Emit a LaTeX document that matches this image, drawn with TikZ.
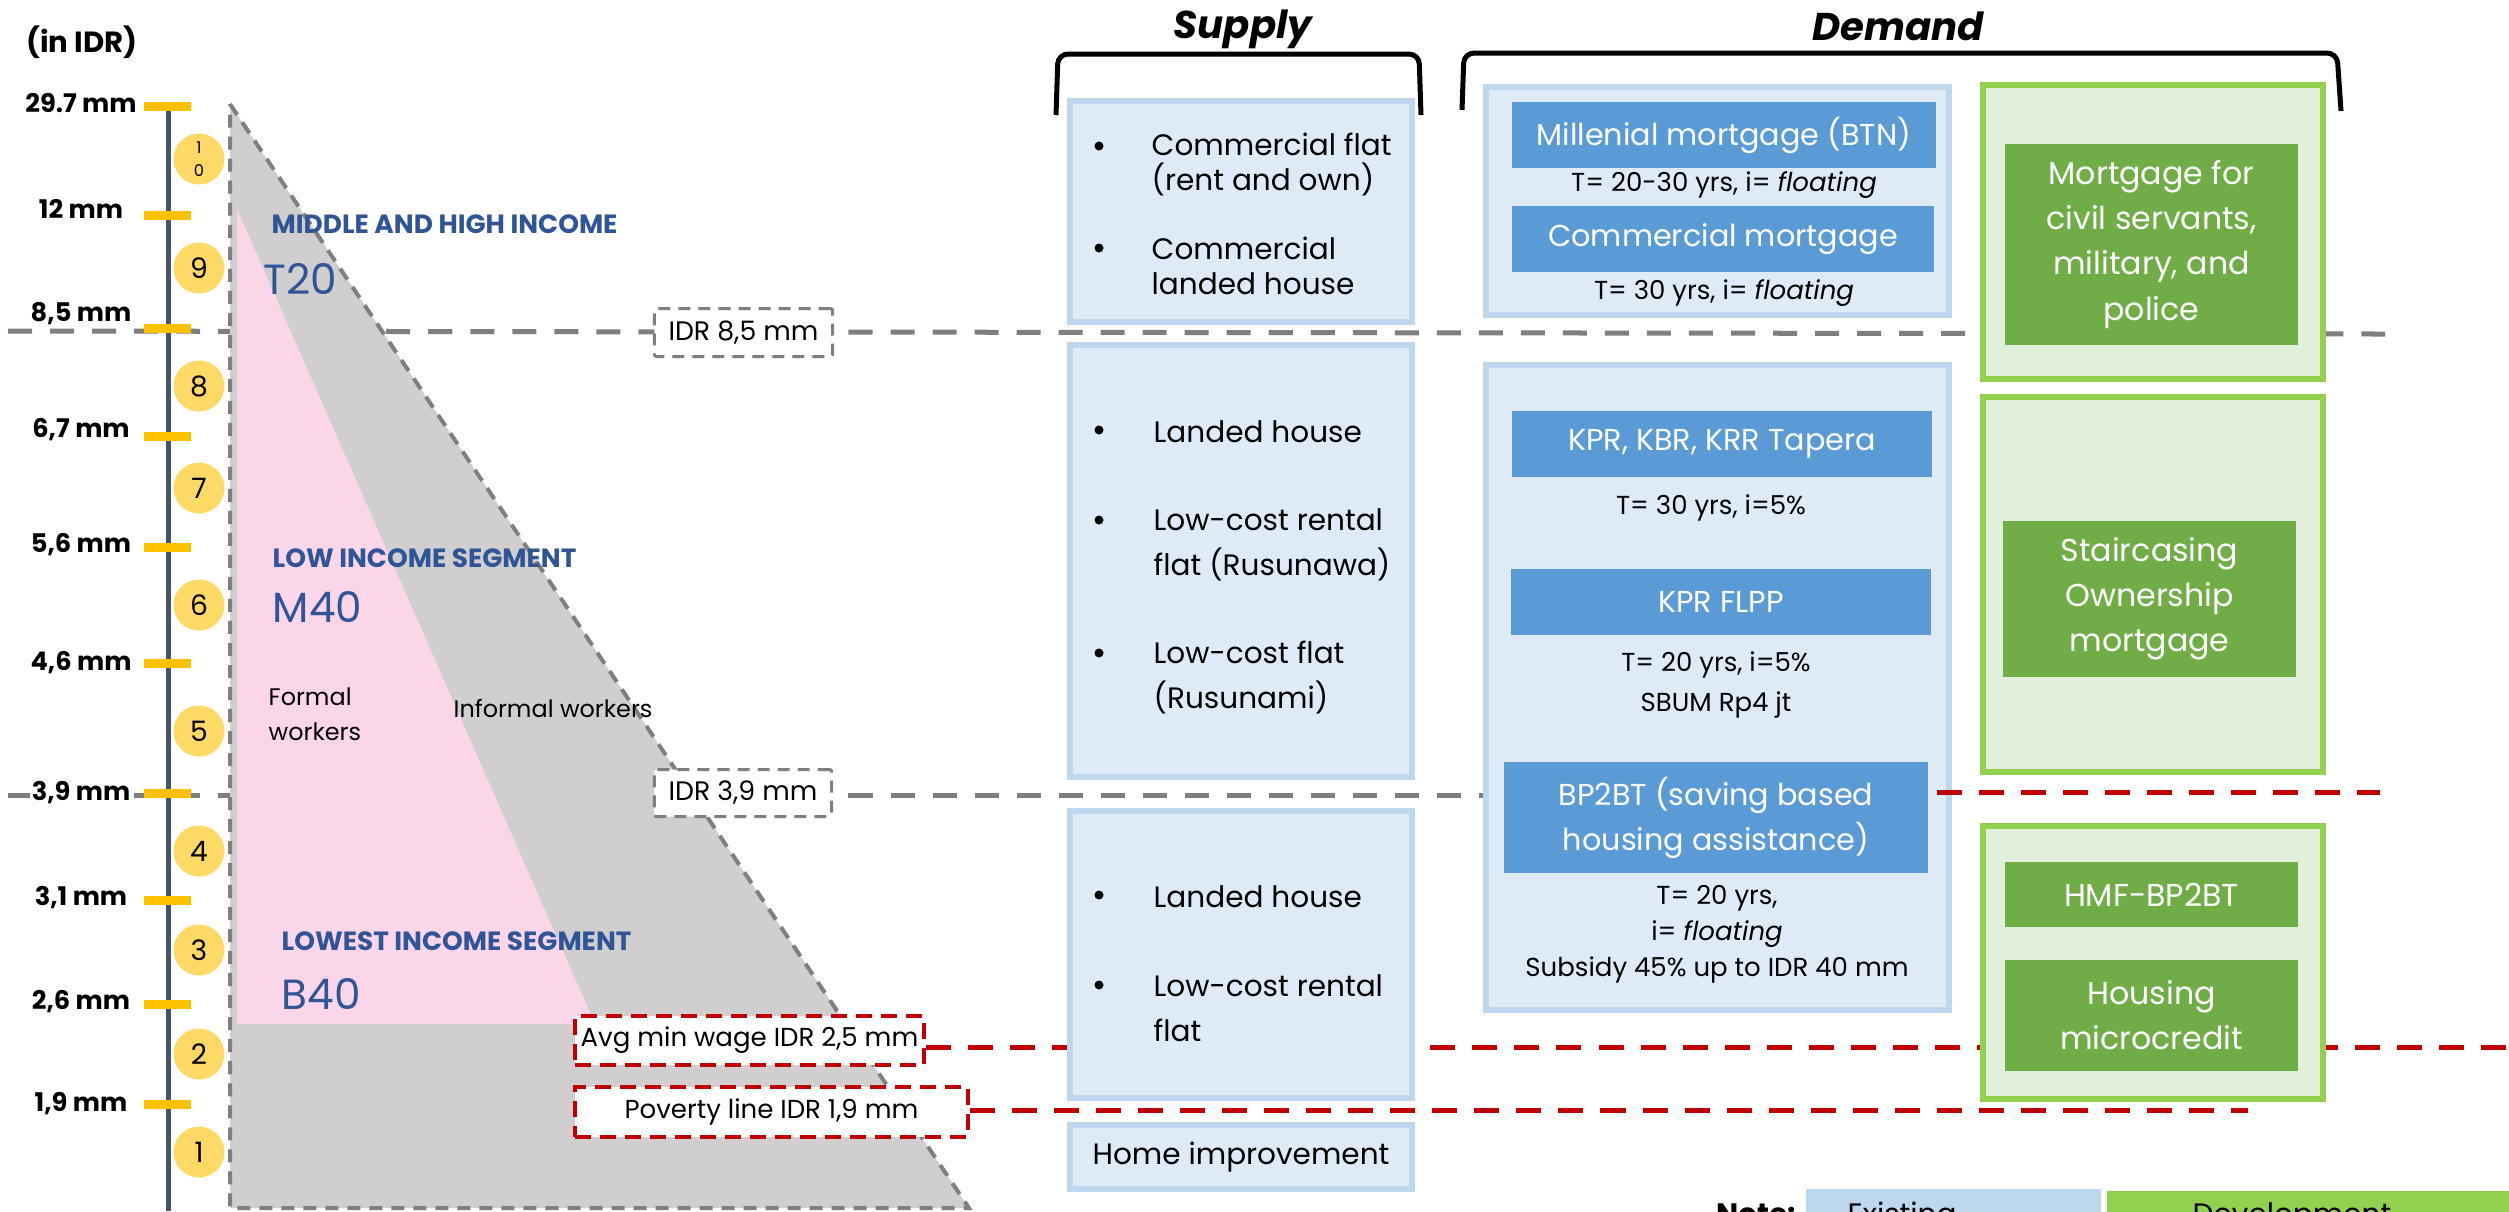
\documentclass[tikz,border=0pt]{standalone}
\usepackage{fontspec}
\setmainfont{Poppins}

\definecolor{axisblue}{HTML}{44546A}
\definecolor{tickyellow}{HTML}{FFC000}
\definecolor{circyellow}{HTML}{FFD966}
\definecolor{pyrgrey}{HTML}{D0CECE}
\definecolor{pinkfill}{RGB}{251,214,232}
\definecolor{dashgrey}{HTML}{7F7F7F}
\definecolor{segblue}{HTML}{2F5597}
\definecolor{boxblue}{HTML}{DEEBF7}
\definecolor{edgeblue}{HTML}{BDD7EE}
\definecolor{barblue}{HTML}{5B9BD5}
\definecolor{boxgreen}{HTML}{E2EFDA}
\definecolor{edgegreen}{HTML}{92D050}
\definecolor{bargreen}{HTML}{70AD47}
\definecolor{linered}{HTML}{C00000}

\newcommand{\fsz}[2]{\fontsize{#1}{#2}\selectfont}

\tikzset{
  greyline/.style={draw=dashgrey, line width=0.05cm, dash pattern=on 0.24cm off 0.18cm},
  redline/.style={draw=linered, line width=0.05cm, dash pattern=on 0.25cm off 0.17cm},
  pyredge/.style={draw=dashgrey, line width=0.04cm, dash pattern=on 0.13cm off 0.09cm},
  tickbar/.style={draw=tickyellow, line width=0.09cm},
  decile/.style={circle, fill=circyellow, minimum size=0.51cm, inner sep=0pt, font=\fsz{8}{9}},
  ticklab/.style={fill=white, inner sep=0.6pt, font=\bfseries\fsz{7.3}{8}},
  seghead/.style={anchor=west, inner sep=0pt, text=segblue, font=\bfseries\fsz{7.5}{9}},
  segname/.style={anchor=west, inner sep=0pt, text=segblue, font=\fsz{12}{13}},
  worker/.style={anchor=west, align=left, inner sep=0pt, font=\fsz{6.8}{9.96}},
  idrbox/.style={draw=dashgrey, fill=white, line width=0.03cm, dash pattern=on 0.12cm off 0.08cm,
    rounded corners=0.02cm, inner sep=0pt, font=\fsz{7.6}{9}},
  redbox/.style={draw=linered, fill=white, line width=0.04cm, dash pattern=on 0.16cm off 0.09cm,
    inner sep=0pt, font=\fsz{7.4}{9}},
  supbox/.style={draw=edgeblue, fill=boxblue, line width=0.06cm, inner sep=0pt},
  grnbox/.style={draw=edgegreen, fill=boxgreen, line width=0.06cm, inner sep=0pt},
  bluebar/.style={fill=barblue, text=white, align=center, inner sep=0pt, font=\fsz{8.6}{12.8}},
  grnbar/.style={fill=bargreen, text=white, align=center, inner sep=0pt, font=\fsz{9}{12.8}},
  item/.style={anchor=west, align=left, inner sep=0pt, font=\fsz{8.4}{12.8}},
  dot/.style={circle, fill=black, inner sep=0pt, minimum size=0.09cm},
  terms/.style={align=center, inner sep=0pt, font=\fsz{7.4}{10.2}},
  bracket/.style={draw=black, line width=0.05cm, rounded corners=0.1cm},
  title/.style={anchor=base, inner sep=0pt, font=\bfseries\itshape\fsz{11}{12}},
  legtext/.style={anchor=base west, inner sep=0pt, font=\fsz{8.4}{10}},
}

\begin{document}
\begin{tikzpicture}[x=0.01cm,y=-0.01cm]
\useasboundingbox (0,0) rectangle (2509,1211);
\clip (0,0) rectangle (2509,1211);

% threshold lines behind everything
\coordinate (g85L) at (8,331);
\coordinate (g85R) at (2385,334);
\coordinate (g39L) at (8,795);
\coordinate (g39R) at (1510,795);
\draw[greyline] (g85L) -- (g85R);
\draw[greyline] (g39L) -- (g39R);

% pyramid
\fill[pyrgrey] (230,104) -- (969,1208) -- (230,1208) -- cycle;
\fill[pinkfill] (237,209) -- (595,1024) -- (237,1024) -- cycle;
\draw[pyredge] (230,104) -- (969,1208) -- (230,1208) -- cycle;

\node[seghead] (hmid) at (271,224) {MIDDLE AND HIGH INCOME};
\node[segname] (t20) at (263,279) {T20};
\node[seghead] (hlow) at (272,558) {LOW INCOME SEGMENT};
\node[segname] (m40) at (272,607) {M40};
\node[worker] (formal) at (268,714) {Formal\\workers};
\node[worker] (informal) at (453,708) {Informal workers};
\node[seghead] (hlowest) at (281,941) {LOWEST INCOME SEGMENT};
\node[segname] (b40) at (281,994) {B40};

% axis
\node[inner sep=0pt, font=\bfseries\fsz{8.3}{9}] (unit) at (82,42) {(in IDR)};
\draw[axisblue, line width=0.05cm] (168,106) -- (168,1211);
\foreach \y in {106,215,328,436,547,663,793,900,1004,1104}
  \draw[tickbar] (144,\y) -- (191,\y);
\foreach \y/\t [count=\i] in {103/{29.7 mm},209/{12 mm},314/{8,5 mm},430/{6,7 mm},545/{5,6 mm},
    663/{4,6 mm},793/{3,9 mm},898/{3,1 mm},1002/{2,6 mm},1104/{1,9 mm}}
  \node[ticklab] (lab\i) at (81,\y) {\t};
\node[decile] (d10) at (199,159) {\fsz{4.6}{6.2}\shortstack{1\\0}};
\foreach \y/\n in {268/9,386/8,488/7,605/6,731/5,851/4,950/3,1054/2,1152/1}
  \node[decile] (d\n) at (199,\y) {\n};

% threshold boxes
\node[idrbox, minimum width=1.78cm, minimum height=0.48cm] (idr85) at (743.5,332.5) {IDR 8,5 mm};
\node[idrbox, minimum width=1.77cm, minimum height=0.47cm] (idr39) at (743,793) {IDR 3,9 mm};
\node[redbox, minimum width=3.49cm, minimum height=0.49cm] (wage) at (749.5,1040.5) {Avg min wage IDR 2,5 mm};
\node[redbox, minimum width=3.93cm, minimum height=0.50cm] (poverty) at (771.5,1112) {Poverty line IDR 1,9 mm};
\coordinate (wageR) at (2509,1047);
\coordinate (povR) at (2248,1110);
\draw[redline] (wage.east |- wageR) -- (wageR);
\draw[redline] (poverty.east |- povR) -- (povR);

% supply
\node[title] (supply) at (1243,38) {Supply};
\draw[bracket] (1056,115) -- (1058,54) -- (1419,54) -- (1421,115);
\node[supbox, minimum width=3.42cm, minimum height=2.21cm] (s1) at (1241,211.5) {};
\node[supbox, minimum width=3.42cm, minimum height=4.32cm] (s2) at (1241,561) {};
\node[supbox, minimum width=3.42cm, minimum height=2.87cm] (s3) at (1241,954.5) {};
\node[supbox, minimum width=3.42cm, minimum height=0.64cm, font=\fsz{8.4}{10}] (s4) at (1241,1157) {Home improvement};
\node[dot] (b11) at (1099,146) {};
\node[item, font=\fsz{8.4}{9.96}] (i11) at (1151,164.5) {Commercial flat\\(rent and own)};
\node[dot] (b12) at (1099,248) {};
\node[item, font=\fsz{8.4}{9.96}] (i12) at (1151,266) {Commercial\\landed house};
\node[dot] (b21) at (1099,430) {};
\node[item] (i21) at (1153,432) {Landed house};
\node[dot] (b22) at (1099,520) {};
\node[item] (i22) at (1153,544.5) {Low-cost rental\\flat (Rusunawa)};
\node[dot] (b23) at (1099,653) {};
\node[item] (i23) at (1153,677.5) {Low-cost flat\\(Rusunami)};
\node[dot] (b31) at (1099,895) {};
\node[item] (i31) at (1153,897) {Landed house};
\node[dot] (b32) at (1099,985) {};
\node[item] (i32) at (1153,1008.5) {Low-cost rental\\flat};

% demand
\node[title] (demand) at (1898,40) {Demand};
\draw[bracket] (1462,110) -- (1464,53) -- (2337,53) -- (2341,111);
\node[supbox, minimum width=4.63cm, minimum height=2.28cm] (dem1) at (1717.5,201) {};
\node[supbox, minimum width=4.63cm, minimum height=6.45cm] (dem2) at (1717.5,687.5) {};
\node[bluebar, minimum width=4.24cm, minimum height=0.66cm] (btn) at (1724,135) {Millenial mortgage (BTN)};
\node[terms] (tbtn) at (1724,185) {T= 20-30 yrs, i= \textit{floating}};
\node[bluebar, minimum width=4.22cm, minimum height=0.66cm] (comm) at (1723,239) {Commercial mortgage};
\node[terms] (tcomm) at (1724,293) {T= 30 yrs, i= \textit{floating}};
\node[bluebar, minimum width=4.20cm, minimum height=0.66cm] (tapera) at (1722,444) {KPR, KBR, KRR Tapera};
\node[terms] (ttapera) at (1711,508) {T= 30 yrs, i=5\%};
\node[bluebar, minimum width=4.20cm, minimum height=0.66cm] (flpp) at (1721,602) {KPR FLPP};
\node[terms, font=\fsz{7.4}{11.4}] (tflpp) at (1716,685) {T= 20 yrs, i=5\%\\SBUM Rp4 jt};
\node[bluebar, minimum width=4.24cm, minimum height=1.11cm] (bp2bt) at (1716,817.5) {BP2BT (saving based\\housing assistance)};
\node[terms] (tbp2bt) at (1717,934) {T= 20 yrs,\\i= \textit{floating}\\Subsidy 45\% up to IDR 40 mm};

\node[grnbox, minimum width=3.40cm, minimum height=2.94cm] (g1) at (2153,232) {};
\node[grnbox, minimum width=3.40cm, minimum height=3.75cm] (g2) at (2153,584.5) {};
\node[grnbox, minimum width=3.40cm, minimum height=2.73cm] (g3) at (2153,962.5) {};
\node[grnbar, minimum width=2.93cm, minimum height=2.01cm] (civil) at (2151.5,244.5) {Mortgage for\\civil servants,\\military, and\\police};
\node[grnbar, minimum width=2.93cm, minimum height=1.56cm] (stair) at (2149.5,599) {Staircasing\\Ownership\\mortgage};
\node[grnbar, minimum width=2.93cm, minimum height=0.65cm] (hmf) at (2151.5,894.5) {HMF-BP2BT};
\node[grnbar, minimum width=2.93cm, minimum height=1.11cm] (micro) at (2151.5,1015.5) {Housing\\microcredit};

\coordinate (bpR) at (2380,792);
\draw[redline] (bp2bt.east |- bpR) ++(8,0) -- (bpR);

% legend, cut by the page edge
\node[legtext, font=\bfseries\fsz{8.4}{10}] (note) at (1716,1224) {Note:};
\node[anchor=north west, fill=edgeblue, minimum width=2.95cm, minimum height=0.5cm] (lexist) at (1805,1188) {};
\node[anchor=north west, fill=edgegreen, minimum width=4.1cm, minimum height=0.5cm] (ldev) at (2106,1190) {};
\node[legtext] (texist) at (1847,1224) {Existing};
\node[legtext] (tdev) at (2192,1224) {Development};
\end{tikzpicture}
\end{document}
